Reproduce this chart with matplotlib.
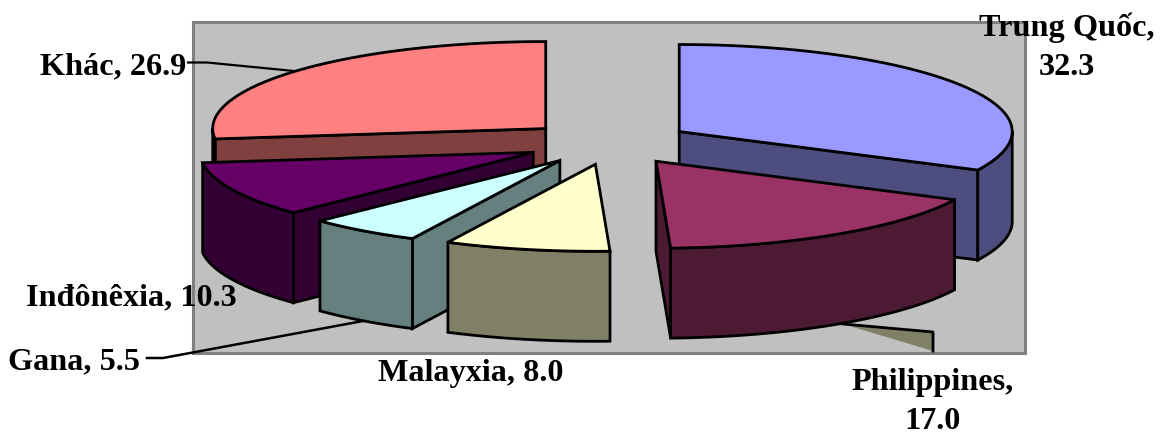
import numpy as np
import matplotlib
matplotlib.use("Agg")
import matplotlib.pyplot as plt
from matplotlib.patches import Polygon, Rectangle

# Share of each partner, in pie order (clockwise from twelve o'clock)
names = ["Trung Quốc", "Philippines", "Malayxia", "Gana", "Inđônêxia", "Khác"]
shares = [32.3, 17.0, 8.0, 5.5, 10.3, 26.9]
top_colors = ["#9999FF", "#993366", "#FFFFCC", "#CCFFFF", "#660066", "#FF8080"]
side_colors = ["#4D4D80", "#4D1A33", "#808066", "#668080", "#330033", "#804040"]

# Label text and centre position for each slice
label_text = ["Trung Quốc,\n32.3", "Philippines,\n17.0", "Malayxia, 8.0",
              "Gana, 5.5", "Inđônêxia, 10.3", "Khác, 26.9"]
label_xy = [(1067, 47), (933, 402), (471, 374), (74, 362), (131, 298), (113, 67)]

# Projected pie geometry, in pixels
CX, CY = 608.0, 144.0
RX, RY = 333.0, 87.0
DEPTH = 90.0
EXPLODE = 0.25
SLICE_NUDGE = [0.5, 2.5, 4.5, 1.0, 0.5, 0.0]
DRAW_ORDER = [5, 0, 4, 3, 1, 2]

W, H = 1164, 435
fig = plt.figure(figsize=(W / 100, H / 100), dpi=100, facecolor="white")
ax = fig.add_axes([0, 0, 1, 1])
ax.set_xlim(0, W)
ax.set_ylim(H, 0)
ax.axis("off")

ax.add_patch(Rectangle((193, 23), 832, 331, facecolor="#C0C0C0",
                       edgecolor="#808080", linewidth=2.2, zorder=1))


def rim(cx, cy, a, b, n=120):
    t = np.radians(np.linspace(a, b, n))
    return np.column_stack([cx + RX * np.sin(t), cy - RY * np.cos(t)])


def face(points, color, z):
    ax.add_patch(Polygon(points, closed=True, facecolor=color, edgecolor="black",
                         linewidth=2.0, joinstyle="miter", zorder=z))


def extrude(points):
    return np.vstack([points, (points + [0, DEPTH])[::-1]])


edges = np.concatenate([[0], np.cumsum(shares)]) * 3.6
z = 3
for i in DRAW_ORDER:
    a, b = edges[i], edges[i + 1]
    mid = np.radians((a + b) / 2)
    cx = CX + EXPLODE * RX * np.sin(mid) + SLICE_NUDGE[i]
    cy = CY - EXPLODE * RY * np.cos(mid)
    apex = np.array([[cx, cy]])
    # Radial cut faces that turn toward the viewer
    if np.sin(np.radians(a)) < 0:
        face(extrude(np.vstack([apex, rim(cx, cy, a, a, 1)])), side_colors[i], z)
    if np.sin(np.radians(b)) > 1e-6:
        face(extrude(np.vstack([apex, rim(cx, cy, b, b, 1)])), side_colors[i], z)
    # Outer wall along the front half of the ellipse
    lo, hi = max(a, 90), min(b, 270)
    if hi > lo:
        face(extrude(rim(cx, cy, lo, hi)), side_colors[i], z)
    # Top surface
    face(np.vstack([apex, rim(cx, cy, a, b)]), top_colors[i], z + 0.5)
    z += 1

# Leader lines
ax.plot([188, 207, 294], [63.5, 63.5, 72], color="black", lw=1.6, zorder=2)
ax.plot([147, 163, 363], [359, 359, 322], color="black", lw=1.8, zorder=2)
ax.add_patch(Polygon([(843, 325), (933, 333), (933, 352)], closed=True,
                     facecolor="#808066", edgecolor="none", zorder=2))
ax.plot([843, 933, 933], [325, 333, 352], color="black", lw=2.0, zorder=2)

for text, (x, y) in zip(label_text, label_xy):
    ax.text(x, y, text, family="Liberation Serif", weight="bold", fontsize=23.2,
            ha="center", va="center", color="black", linespacing=1.45, zorder=20)

fig.savefig("out.png", dpi=100, facecolor="white")
